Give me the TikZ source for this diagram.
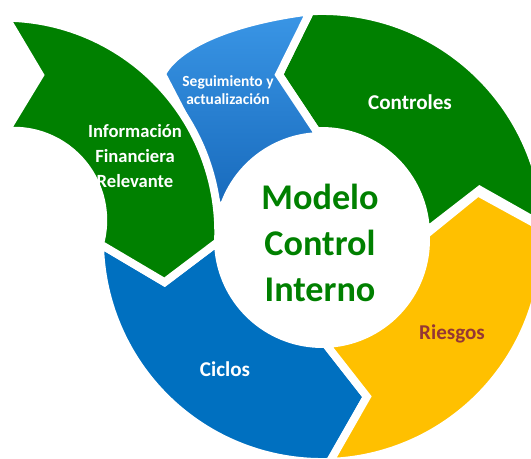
\documentclass[tikz,border=0pt]{standalone}
\usepackage{fontspec}
\setmainfont{Carlito}
\definecolor{infogreen}{RGB}{0,128,0}
\definecolor{cicloblue}{RGB}{0,112,192}
\definecolor{riskyellow}{RGB}{255,192,0}
\definecolor{riskbrown}{RGB}{149,55,53}
\definecolor{segtop}{RGB}{58,150,230}
\definecolor{segbottom}{RGB}{22,104,186}

\begin{document}
\begin{tikzpicture}[x=0.02cm, y=0.02cm,
	piece/.style={draw=white, line width=4.5pt, line join=miter},
	piecetext/.style={text=white, font=\bfseries\fontsize{12}{14}\selectfont, inner sep=0pt, anchor=base},
	centertext/.style={text=infogreen, font=\bfseries\fontsize{20.6}{26}\selectfont, align=center, inner sep=0pt}]
	\useasboundingbox (0,0) rectangle (531,-459);
	\clip (0,0) rectangle (531,-459);
	\begin{scope}[shift={(322,-240)}]
		\path[piece, fill=cicloblue] (181:222) arc[start angle=181, end angle=272, radius=222] -- (286:163) -- (272:104) arc[start angle=272, end angle=181, radius=104] -- (195:163) -- cycle;
		\path[piece, fill=riskyellow] (272:222) arc[start angle=272, end angle=363, radius=222] -- (377:163) -- (363:104) arc[start angle=363, end angle=272, radius=104] -- (286:163) -- cycle;
		\coordinate (ciclos-in) at (181:104);
		\coordinate (ciclos-notch) at (195:163);
		\coordinate (seg-in) at (93:104);
	\end{scope}
	\begin{scope}[shift={(322,-235)}]
		\path[piece, fill=infogreen] (2:224) arc[start angle=2, end angle=93, radius=224] -- (105:166) -- (93:104) arc[start angle=93, end angle=2, radius=104] -- (16:164) -- cycle;
		\coordinate (ctrl-out) at (93:224);
		\coordinate (ctrl-tip) at (105:166);
		\coordinate (ctrl-in) at (93:104);
	\end{scope}
	\path[piece, top color=segtop, bottom color=segbottom] (ctrl-out) -- (ctrl-tip) -- (ctrl-in) -- (seg-in) arc[start angle=93, end angle=166, radius=104] -- (185.9,-120) -- (162,-74) .. controls (175,-48) and (225,-22) .. (ctrl-out) -- cycle;
	\path[piece, fill=infogreen] (ciclos-in) arc[start angle=-2.56, end angle=89.4, radius=214.5] -- (40,-75) -- (6,-131) arc[start angle=94.9, end angle=-15.4, radius=89.6] -- (ciclos-notch) -- cycle;
	\node[centertext] (modelo) at (320,-243) {Modelo\\Control\\Interno};
	\node[piecetext] (controles) at (410,-110) {Controles};
	\node[piecetext] (ciclos) at (225,-377) {Ciclos};
	\node[piecetext, text=riskbrown] (riesgos) at (452,-339) {Riesgos};
	\node[piecetext, anchor=center, align=center, font=\bfseries\fontsize{10.6}{14.2}\selectfont] (informacion) at (135,-156) {Información\\Financiera\\Relevante};
	\node[piecetext, anchor=center, align=center, font=\bfseries\fontsize{8.8}{10.2}\selectfont] (seguimiento) at (228,-90) {Seguimiento y\\actualización};
\end{tikzpicture}
\end{document}
